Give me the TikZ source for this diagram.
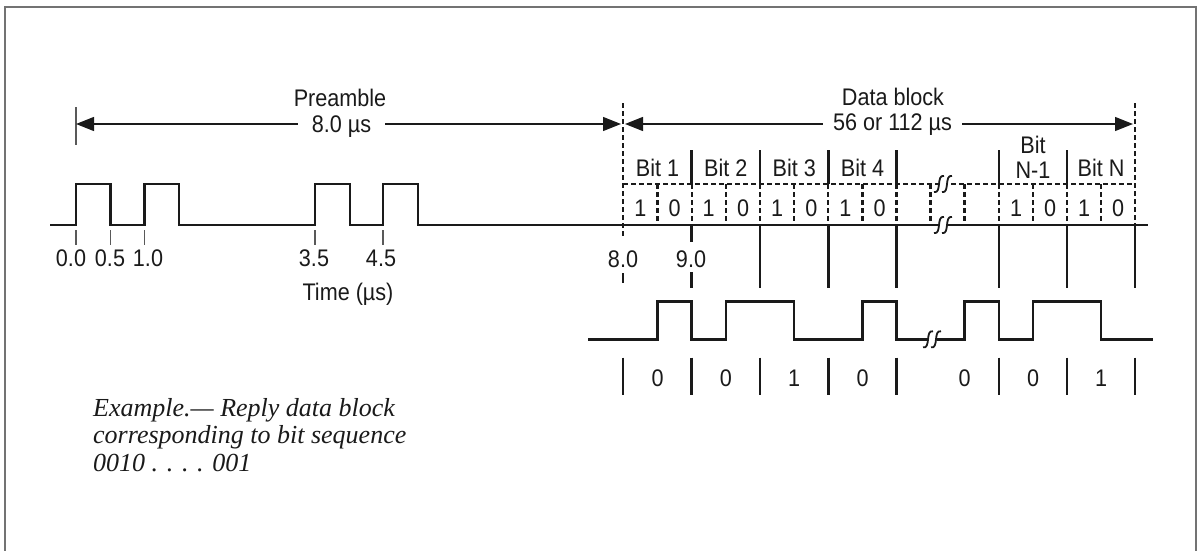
\documentclass[tikz,border=0pt]{standalone}
\usepackage{fontspec}
\setmainfont{Liberation Serif}
\newfontfamily\lblfont[FakeStretch=0.9]{Liberation Sans}
\usetikzlibrary{arrows.meta}
\definecolor{ink}{HTML}{1A1A1A}
\tikzset{
  brk/.pic={
    \fill[white] (-4.5,-3.5) rectangle (4,3.5);
    \draw[line width=1.8pt, ink] (-10,8) .. controls (-2,10) and (-8,-10) .. (0,-8);
    \draw[line width=1.8pt, ink] (-2,8) .. controls (6,10) and (0,-10) .. (8,-8);
  }
}
\begin{document}
\begin{tikzpicture}[x=1pt,y=-1pt,
  wave/.style={line width=2.5pt, draw=ink, line join=miter},
  dsh/.style={line width=2.2pt, draw=ink, dash pattern=on 5pt off 3pt},
  bar/.style={line width=2.6pt, draw=ink},
  tickline/.style={line width=1.3pt, draw=black!65},
  dimline/.style={line width=1.3pt, draw=ink},
  lab/.style={font=\lblfont\fontsize{24}{26}\selectfont, text=ink, inner sep=0pt},
  note/.style={font=\itshape\fontsize{26}{28}\selectfont, text=ink, inner sep=0pt, anchor=base west},
  tipL/.tip={Triangle[length=18pt,width=14pt]},
]
\useasboundingbox (0,0) rectangle (1197,550);
% frame
\draw[line width=2pt, draw=black!55] (5,551) -- (5,6.5) -- (1196,6.5) -- (1196,551);

% ---------- Preamble dimension ----------
\draw[tickline] (76,107) -- (76,145);
\coordinate (pa) at (76,124);
\coordinate (pb) at (621,124);
\draw[dimline, tipL-tipL] (pa) -- (pb);
\node[lab, anchor=base] (pre) at (340,106) {Preamble};
\node[lab, anchor=base, fill=white, minimum width=87pt] (pdur) at (341.5,132) {8.0 µs};

% ---------- Data block dimension ----------
\draw[dsh] (623,103) -- (623,238);
\draw[dsh] (1135,103) -- (1135,225);
\coordinate (da) at (625,124);
\coordinate (dbb) at (1133,124);
\draw[dimline, tipL-tipL] (da) -- (dbb);
\node[lab, anchor=base] (dblk) at (893,105.5) {Data block};
\node[lab, anchor=base, fill=white, minimum width=139pt] (ddur) at (892.5,130.5) {56 or 112 µs};

% ---------- bit grid ----------
\draw[dsh] (623,184) -- (1135,184);
\foreach \x in {691.7,760,828.3,896.5,999,1067}
  \draw[bar] (\x,150) -- (\x,184);
\foreach \x in {657.5,691.7,725.8,760,794.2,828.3,862.5,896.5,930.5,964.5,999,1033,1067,1101}
  \draw[dsh] (\x,184) -- (\x,225);
\foreach \x in {760,828.3,896.5,999,1067,1135}
  \draw[bar] (\x,225) -- (\x,288);
\draw[bar] (691.7,225) -- (691.7,242);
\draw[bar] (691.7,272) -- (691.7,288);
\draw[line width=2pt, draw=ink] (623,273) -- (623,283);

% bit labels
\node[lab, anchor=base] (bit1) at (657.5,176.5) {Bit 1};
\node[lab, anchor=base] (bit2) at (725.8,176.5) {Bit 2};
\node[lab, anchor=base] (bit3) at (794.2,176.5) {Bit 3};
\node[lab, anchor=base] (bit4) at (862.5,176.5) {Bit 4};
\node[lab, anchor=base] (bitn1a) at (1033,153.5) {Bit};
\node[lab, anchor=base] (bitn1b) at (1033,178.3) {N-1};
\node[lab, anchor=base] (bitn) at (1101,176.5) {Bit N};
\foreach \x/\n in {640.3/a,708.7/b,777.1/c,845.4/d,1016/e,1084/f}
  \node[lab, anchor=base] (one\n) at (\x,216.5) {1};
\foreach \x/\n in {674.6/a,743/b,811.3/c,879.5/d,1050/e,1118/f}
  \node[lab, anchor=base] (zero\n) at (\x,216.5) {0};

% ---------- preamble waveform + baseline ----------
\draw[wave] (50,225) -- (76,225) -- (76,184) -- (110.5,184) -- (110.5,225)
  -- (144.3,225) -- (144.3,184) -- (179,184) -- (179,225)
  -- (315,225) -- (315,184) -- (350,184) -- (350,225)
  -- (383,225) -- (383,184) -- (418,184) -- (418,225) -- (1148,225);
\pic at (944,184) {brk};
\pic at (944,225) {brk};

% time ticks
\foreach \x in {76,110.5,144.3,315,383}
  \draw[tickline] (\x,230) -- (\x,245);
\node[lab, anchor=base] (t00) at (71,266.5) {0.0};
\node[lab, anchor=base] (t05) at (110,266.5) {0.5};
\node[lab, anchor=base] (t10) at (148,266.5) {1.0};
\node[lab, anchor=base] (t35) at (314,266.5) {3.5};
\node[lab, anchor=base] (t45) at (381,266.5) {4.5};
\node[lab, anchor=base] (t80) at (623,267) {8.0};
\node[lab, anchor=base] (t90) at (691,267) {9.0};
\node[lab, anchor=base] (time) at (348,300) {Time (µs)};

% ---------- decoded waveform ----------
\draw[wave] (588,339.3) -- (657.5,339.3) -- (657.5,301.7) -- (691.7,301.7) -- (691.7,339.3)
  -- (725.8,339.3) -- (725.8,301.7) -- (794.2,301.7) -- (794.2,339.3)
  -- (862.5,339.3) -- (862.5,301.7) -- (896.5,301.7) -- (896.5,339.3)
  -- (964.5,339.3) -- (964.5,301.7) -- (999,301.7) -- (999,339.3)
  -- (1033,339.3) -- (1033,301.7) -- (1101,301.7) -- (1101,339.3) -- (1153,339.3);
\pic at (933,339.3) {brk};

\foreach \x in {623,691.7,760,828.3,896.5,999,1067,1135}
  \draw[bar] (\x,357.7) -- (\x,395);
\node[lab, anchor=base] (v1) at (657.5,386) {0};
\node[lab, anchor=base] (v2) at (725.8,386) {0};
\node[lab, anchor=base] (v3) at (794.2,386) {1};
\node[lab, anchor=base] (v4) at (862.5,386) {0};
\node[lab, anchor=base] (v5) at (964.5,386) {0};
\node[lab, anchor=base] (v6) at (1033,386) {0};
\node[lab, anchor=base] (v7) at (1101,386) {1};

% ---------- note ----------
\node[note] (ex1) at (93,416) {Example.— Reply data block};
\node[note] (ex2) at (93,443.5) {corresponding to bit sequence};
\node[note] (ex3) at (93,471) {0010 . . . . 001};
\end{tikzpicture}
\end{document}
